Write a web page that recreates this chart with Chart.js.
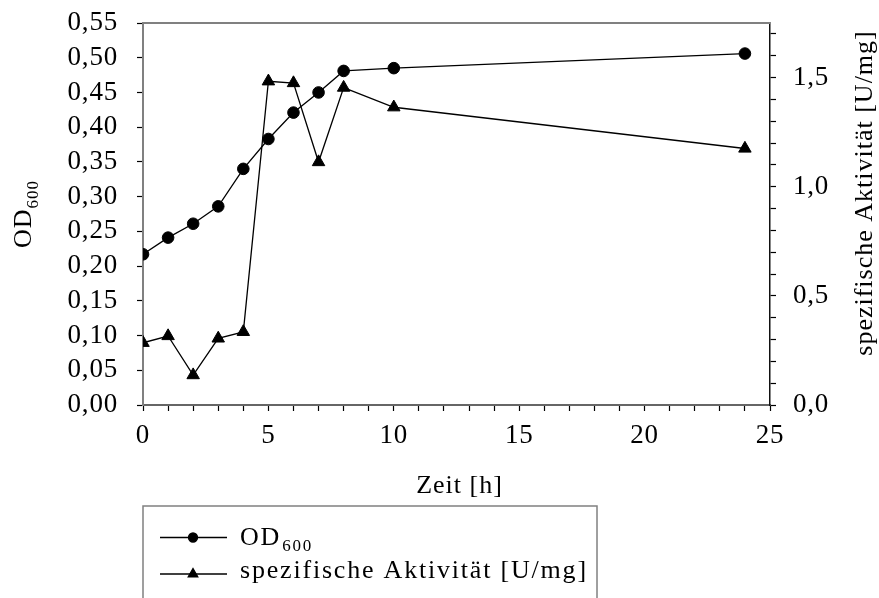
<!DOCTYPE html>
<html>
<head>
<meta charset="utf-8">
<script src="https://cdn.jsdelivr.net/npm/chart.js@4.4.1/dist/chart.umd.min.js"></script>
<style>
  html, body { margin: 0; padding: 0; background: #fff; }
  #wrap { width: 879px; height: 598px; position: relative; }
</style>
</head>
<body>
<div id="wrap"><canvas id="chart" width="879" height="598"></canvas></div>
<script>
const zeit = [0, 1, 2, 3, 4, 5, 6, 7, 8, 10, 24];
const od600 = [0.217, 0.241, 0.261, 0.286, 0.340, 0.383, 0.421, 0.450, 0.481, 0.485, 0.506];
const aktivitaet = [0.285, 0.316, 0.137, 0.305, 0.335, 1.483, 1.475, 1.113, 1.454, 1.364, 1.175];

// Achsen
const xTicks = [0, 1, 2, 3, 4, 5, 6, 7, 8, 9, 10, 11, 12, 13, 14, 15, 16, 17, 18, 19, 20, 21, 22, 23, 24, 25];
const xLabels = [0, 5, 10, 15, 20, 25];
const odTicks = [0, 0.05, 0.10, 0.15, 0.20, 0.25, 0.30, 0.35, 0.40, 0.45, 0.50, 0.55];
const aktTicks = [0, 0.1, 0.2, 0.3, 0.4, 0.5, 0.6, 0.7, 0.8, 0.9, 1.0, 1.1, 1.2, 1.3, 1.4, 1.5, 1.6, 1.7];
const aktLabels = [0, 0.5, 1.0, 1.5];

const FONT = '"Liberation Serif", "Times New Roman", serif';
const komma = (v, d) => v.toFixed(d).replace('.', ',');
const setTicks = (werte) => (scale) => { scale.ticks = werte.map(v => ({ value: v })); };
const fitY = (breite) => (s) => { s.width = breite; s.paddingTop = 0; s.paddingBottom = 0; };

// Titel, Rahmen und Legende selbst zeichnen (Tiefstellung, Leserichtung)
const extras = {
  id: 'extras',
  beforeDraw(chart) {
    chart.ctx.letterSpacing = '0.8px';
  },
  afterDraw(chart) {
    const ctx = chart.ctx;
    const a = chart.chartArea;
    ctx.save();

    // obere Rahmenlinie
    ctx.strokeStyle = '#808080';
    ctx.lineWidth = 2;
    ctx.beginPath();
    ctx.moveTo(a.left - 1, a.top);
    ctx.lineTo(a.right, a.top);
    ctx.stroke();

    ctx.fillStyle = '#000';
    ctx.textBaseline = 'alphabetic';

    // x-Titel
    ctx.letterSpacing = '1px';
    ctx.font = '26px ' + FONT;
    ctx.textAlign = 'center';
    ctx.fillText('Zeit [h]', (a.left + a.right) / 2 + 3, 493);

    // linker Titel OD600
    ctx.save();
    ctx.translate(31, 214);
    ctx.rotate(-Math.PI / 2);
    ctx.textAlign = 'left';
    ctx.font = '26px ' + FONT;
    const wOD = ctx.measureText('OD').width;
    ctx.font = '17px ' + FONT;
    const wSub = ctx.measureText('600').width;
    const start = -(wOD + wSub) / 2;
    ctx.font = '26px ' + FONT;
    ctx.fillText('OD', start, 0);
    ctx.font = '17px ' + FONT;
    ctx.fillText('600', start + wOD, 7);
    ctx.restore();

    // rechter Titel
    ctx.save();
    ctx.translate(872, 193);
    ctx.rotate(-Math.PI / 2);
    ctx.textAlign = 'center';
    ctx.letterSpacing = '1px';
    ctx.font = '26px ' + FONT;
    ctx.fillText('spezifische Aktivität [U/mg]', 0, 0);
    ctx.restore();

    // Legende
    ctx.strokeStyle = '#808080';
    ctx.lineWidth = 1.5;
    ctx.strokeRect(143, 506, 454, 120);

    const reihen = [
      { ds: chart.data.datasets[0], y: 537.5 },
      { ds: chart.data.datasets[1], y: 574 }
    ];
    reihen.forEach(r => {
      ctx.strokeStyle = '#000';
      ctx.fillStyle = '#000';
      ctx.lineWidth = 1.3;
      ctx.beginPath();
      ctx.moveTo(160, r.y);
      ctx.lineTo(227, r.y);
      ctx.stroke();
      Chart.helpers.drawPoint(ctx, {
        pointStyle: r.ds.pointStyle,
        radius: r.ds.pointStyle === 'triangle' ? 5.5 : 4.5,
        borderWidth: 1
      }, 193, r.y);
    });

    ctx.fillStyle = '#000';
    ctx.textAlign = 'left';
    ctx.letterSpacing = '1.8px';
    ctx.font = '26px ' + FONT;
    ctx.fillText('OD', 240, 545);
    const w = ctx.measureText('OD').width;
    ctx.font = '17px ' + FONT;
    ctx.fillText('600', 240 + w + 1, 551);
    ctx.font = '26px ' + FONT;
    ctx.fillText('spezifische Aktivität [U/mg]', 240, 578);

    ctx.restore();
  }
};

new Chart(document.getElementById('chart'), {
  type: 'line',
  data: {
    datasets: [
      {
        label: 'OD600',
        data: zeit.map((t, i) => ({ x: t, y: od600[i] })),
        yAxisID: 'y',
        borderColor: '#000',
        backgroundColor: '#000',
        borderWidth: 1.3,
        pointStyle: 'circle',
        pointRadius: 5.8,
        pointBorderWidth: 1,
        tension: 0
      },
      {
        label: 'spezifische Aktivität [U/mg]',
        data: zeit.map((t, i) => ({ x: t, y: aktivitaet[i] })),
        yAxisID: 'y2',
        borderColor: '#000',
        backgroundColor: '#000',
        borderWidth: 1.3,
        pointStyle: 'triangle',
        pointRadius: 7.2,
        pointBorderWidth: 1,
        tension: 0
      }
    ]
  },
  options: {
    responsive: false,
    animation: false,
    layout: { padding: { top: 23, left: 0, right: 0, bottom: 0 } },
    plugins: { legend: { display: false }, tooltip: { enabled: false } },
    scales: {
      x: {
        type: 'linear',
        min: 0,
        max: 25,
        afterBuildTicks: setTicks(xTicks),
        afterFit: (s) => { s.height = 193; s.paddingLeft = 0; s.paddingRight = 0; },
        grid: { drawOnChartArea: false, tickLength: 6, color: '#000', tickWidth: 1.2 },
        border: { color: '#666', width: 2 },
        ticks: {
          padding: 9,
          maxRotation: 0,
          autoSkip: false,
          color: '#000',
          font: { family: FONT, size: 27 },
          callback: (v) => xLabels.includes(v) ? String(v) : ''
        }
      },
      y: {
        position: 'left',
        min: 0,
        max: 0.55,
        afterBuildTicks: setTicks(odTicks),
        afterFit: fitY(143),
        grid: { drawOnChartArea: false, tickLength: 6, color: '#000', tickWidth: 1.2 },
        border: { color: '#808080', width: 2 },
        ticks: {
          padding: 19,
          autoSkip: false,
          color: '#000',
          font: { family: FONT, size: 27 },
          callback: (v) => komma(v, 2)
        }
      },
      y2: {
        position: 'right',
        min: 0,
        max: 1.75,
        afterBuildTicks: setTicks(aktTicks),
        afterFit: fitY(109),
        grid: { drawOnChartArea: false, tickLength: 6, color: '#000', tickWidth: 1.2 },
        border: { color: '#111', width: 1.5 },
        ticks: {
          padding: 17,
          autoSkip: false,
          color: '#000',
          font: { family: FONT, size: 27 },
          callback: (v) => aktLabels.some(l => Math.abs(l - v) < 1e-9) ? komma(v, 1) : ''
        }
      }
    }
  },
  plugins: [extras]
});
</script>
</body>
</html>
